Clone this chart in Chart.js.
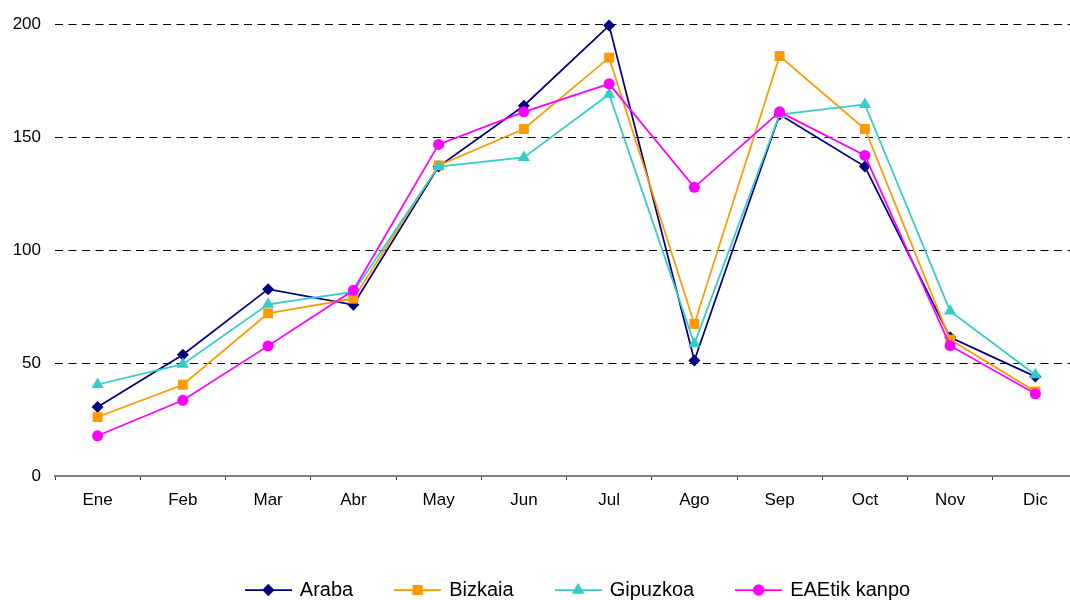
<!DOCTYPE html>
<html>
<head>
<meta charset="utf-8">
<script src="https://cdn.jsdelivr.net/npm/chart.js@4/dist/chart.umd.min.js"></script>
<style>
  html, body { margin: 0; padding: 0; overflow: hidden; background: #fff; }
  canvas { display: block; }
</style>
</head>
<body>
<canvas id="chart" width="1085" height="610"></canvas>
<script>
// Data
const months = ['Ene', 'Feb', 'Mar', 'Abr', 'May', 'Jun', 'Jul', 'Ago', 'Sep', 'Oct', 'Nov', 'Dic'];
const araba = [30.5, 53.7, 82.7, 75.8, 137, 163.9, 199.4, 51.1, 160, 137, 61.4, 44];
const bizkaia = [26.1, 40.4, 72, 78.5, 137.5, 153.6, 185.2, 67.3, 185.9, 153.6, 60.4, 37.4];
const gipuzkoa = [40.5, 49.5, 76, 81.5, 137, 141, 169, 58.5, 160, 164.5, 73, 44.8];
const eaeKanpo = [17.8, 33.5, 57.6, 82.2, 146.8, 161.2, 173.6, 127.8, 161.2, 141.9, 57.7, 36.4];
const yTicks = [0, 50, 100, 150, 200];

const FONT = "'Liberation Sans', Arial, sans-serif";

const series = [
    { label: 'Araba', data: araba, color: '#000080', style: 'rectRot', r: 6 },
    { label: 'Bizkaia', data: bizkaia, color: '#FF9900', style: 'rect', r: 7 },
    { label: 'Gipuzkoa', data: gipuzkoa, color: '#33CCCC', style: 'triangle', r: 7 },
    { label: 'EAEtik kanpo', data: eaeKanpo, color: '#FF00FF', style: 'circle', r: 5.5 }
];

// legend icon: short line with the marker in the middle
function legendIcon(s) {
    const c = document.createElement('canvas');
    c.width = 47;
    c.height = 16;
    const ctx = c.getContext('2d');
    ctx.strokeStyle = s.color;
    ctx.lineWidth = 1.75;
    ctx.beginPath();
    ctx.moveTo(0, 8);
    ctx.lineTo(47, 8);
    ctx.stroke();
    ctx.fillStyle = s.color;
    Chart.helpers.drawPoint(ctx, { pointStyle: s.style, radius: s.r, borderWidth: 0 }, 23.5, 8);
    ctx.fill();
    return c;
}
const icons = series.map(legendIcon);

// legend sits a bit right of the plot centre in the original
const legendShift = {
    id: 'legendShift',
    afterLayout(chart) {
        chart.legend.left += 12;
        chart.legend.right += 12;
    }
};

new Chart(document.getElementById('chart'), {
    type: 'line',
    data: {
        labels: months,
        datasets: series.map((s, i) => ({
            label: s.label,
            data: s.data,
            borderColor: s.color,
            backgroundColor: s.color,
            borderWidth: 1.75,
            pointStyle: s.style,
            pointRadius: s.r,
            pointBorderWidth: 0,
            pointBackgroundColor: s.color,
            tension: 0,
            clip: false,
            order: series.length - 1 - i
        }))
    },
    plugins: [legendShift],
    options: {
        responsive: false,
        animation: false,
        layout: { padding: { top: 22, right: 6, left: 0, bottom: 0 } },
        plugins: {
            tooltip: { enabled: false },
            legend: {
                position: 'bottom',
                fullSize: false,
                labels: {
                    usePointStyle: true,
                    pointStyleWidth: 43,
                    padding: 43,
                    color: '#000',
                    font: { family: FONT, size: 20 },
                    generateLabels: chart => chart.data.datasets.map((ds, i) => ({
                        text: ds.label,
                        pointStyle: icons[i],
                        fillStyle: ds.borderColor,
                        strokeStyle: ds.borderColor,
                        lineWidth: 0,
                        hidden: false,
                        datasetIndex: i,
                        fontColor: '#000'
                    }))
                }
            }
        },
        scales: {
            x: {
                offset: true,
                afterFit: scale => { scale.height = 61; },
                border: { display: true, color: '#808080', width: 2 },
                grid: {
                    offset: true,
                    drawOnChartArea: false,
                    drawTicks: true,
                    tickLength: 4,
                    color: '#404040'
                },
                ticks: {
                    color: '#000',
                    padding: 10,
                    maxRotation: 0,
                    font: { family: FONT, size: 17 }
                }
            },
            y: {
                min: 0,
                max: 200,
                afterFit: scale => { scale.width = 55; },
                afterBuildTicks: scale => { scale.ticks = yTicks.map(v => ({ value: v })); },
                border: { display: false, dash: [8, 5.5] },
                grid: {
                    drawTicks: false,
                    color: ctx => ctx.tick && ctx.tick.value === 0 ? 'rgba(0,0,0,0)' : '#000',
                    lineWidth: 1
                },
                ticks: {
                    color: '#000',
                    padding: 14,
                    font: { family: FONT, size: 17 }
                }
            }
        }
    }
});
</script>
</body>
</html>
